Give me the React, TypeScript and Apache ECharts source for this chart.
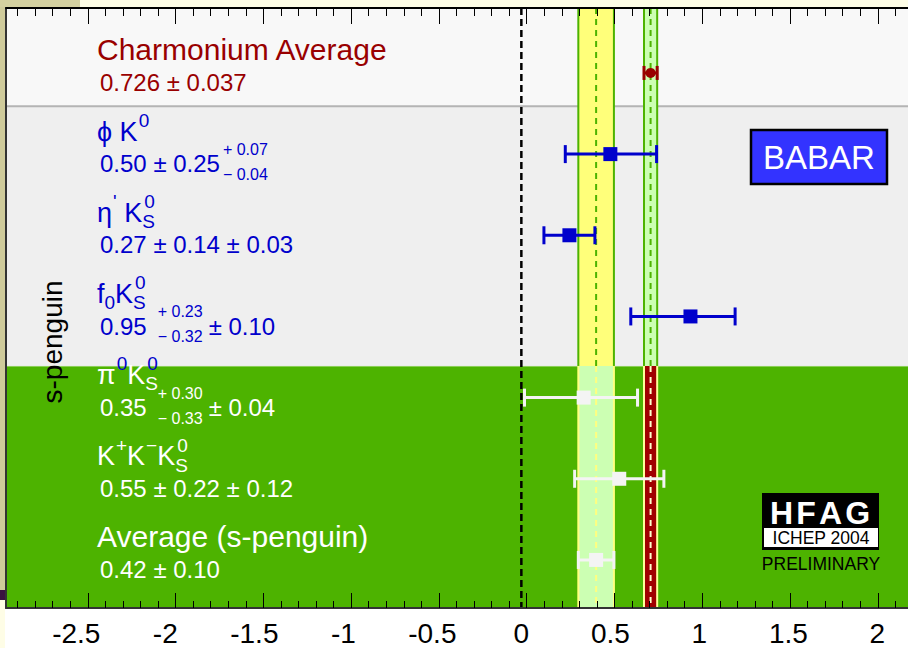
import React, { useEffect, useRef } from "react";
import * as echarts from "echarts";

const FONT_FAMILY = "'Liberation Sans', Arial, Helvetica, sans-serif";

// sin(2β) measurements, one row each, from top to bottom of the plot
const rowIndex = [0, 1, 2, 3, 4, 5, 6];
const centralValues = [0.726, 0.5, 0.27, 0.95, 0.35, 0.55, 0.42];
const statPlus = [0.037, 0.25, 0.14, 0.23, 0.3, 0.22, 0.1];
const statMinus = [0.037, 0.25, 0.14, 0.32, 0.33, 0.22, 0.1];
const systPlus = [0, 0.07, 0.03, 0.1, 0.04, 0.12, 0];
const systMinus = [0, 0.04, 0.03, 0.1, 0.04, 0.12, 0];
const labelDecimals = [3, 2, 2, 2, 2, 2, 2];

// rows whose results are also drawn as vertical bands
const charmoniumRow = 0;
const penguinAverageRow = 6;

type HeaderPiece = { t: string; k?: "sup" | "sub"; sup?: string };
const headerPieces: HeaderPiece[][] = [
  [{ t: "Charmonium Average" }],
  [{ t: "ϕ K" }, { t: "0", k: "sup" }],
  [{ t: "η" }, { t: "'", k: "sup" }, { t: " K" }, { t: "S", k: "sub", sup: "0" }],
  [{ t: "f" }, { t: "0", k: "sub" }, { t: "K" }, { t: "S", k: "sub", sup: "0" }],
  [{ t: "π" }, { t: "0", k: "sup" }, { t: "K" }, { t: "S", k: "sub", sup: "0" }],
  [{ t: "K" }, { t: "+", k: "sup" }, { t: "K" }, { t: "−", k: "sup" }, { t: "K" }, { t: "S", k: "sub", sup: "0" }],
  [{ t: "Average (s-penguin)" }],
];

const xMajorTicks = [-2.5, -2, -1.5, -1, -0.5, 0, 0.5, 1, 1.5, 2];
const xTickLabels = ["-2.5", "-2", "-1.5", "-1", "-0.5", "0", "0.5", "1", "1.5", "2"];

const X_MIN = -2.895;
const X_MAX = 2.172;
const Y_MIN = -0.8;
const Y_MAX = 6.592;
// the tick frame axis starts on a whole multiple of its 0.5 interval
const TICK_MIN = -3;
const PLOT_LEFT = 6;
const PLOT_WIDTH = 902;
const TICK_LEFT = PLOT_LEFT - ((X_MIN - TICK_MIN) * PLOT_WIDTH) / (X_MAX - X_MIN);

// plot sections in row units: charmonium / BaBar s-penguin modes / remaining modes
const sectionEdges = [Y_MIN, 0.41, 3.61, Y_MAX];
const sectionFills = ["#f8f8f8", "#efefef", "#4db300"];
const sectionText = ["#990000", "#0000cc", "#ffffff"];

const bandStyles = [
  [
    { fill: "#ffff7a", edge: "#4db300", center: "#4db300" },
    { fill: "#ccffb3", edge: "#ffff80", center: "#ffff80" },
  ],
  [
    { fill: "#ccffb3", edge: "#4db300", center: "#4db300" },
    { fill: "#a00000", edge: "#ffff99", center: "#ffffcc" },
  ],
];

const measureCtx = document.createElement("canvas").getContext("2d") as CanvasRenderingContext2D;
function textWidth(s: string, size: number, weight = "normal") {
  measureCtx.font = `${weight} ${size}px ${FONT_FAMILY}`;
  return measureCtx.measureText(s).width;
}

function fontOf(size: number, weight = "normal") {
  return `${weight} ${size}px ${FONT_FAMILY}`;
}

function textEl(x: number, baseline: number, text: string, size: number, fill: string, weight = "normal") {
  return {
    type: "text",
    x,
    y: baseline - 0.35 * size,
    style: {
      text,
      fill,
      font: fontOf(size, weight),
      align: "left",
      textAlign: "left",
      verticalAlign: "middle",
      textVerticalAlign: "middle",
    },
  };
}

// superscript stacked above a subscript, kept as one two-line text;
// sup baseline sits 14px above the main baseline, sub baseline 6px below it
function scriptStackEl(x: number, base: number, sup: string, sub: string, size: number, supFill: string, subFill: string) {
  const gap = 20;
  return {
    type: "text",
    x,
    y: base - 4 - 0.35 * size,
    style: {
      text: `{u|${sup}}\n{d|${sub}}`,
      font: fontOf(size),
      align: "left",
      textAlign: "left",
      verticalAlign: "middle",
      textVerticalAlign: "middle",
      lineHeight: gap,
      rich: {
        u: { fill: supFill, textFill: supFill, font: fontOf(size), lineHeight: gap, padding: [0, 0, 0, 2] },
        d: { fill: subFill, textFill: subFill, font: fontOf(size), lineHeight: gap },
      },
    },
  };
}

function sectionOf(row: number) {
  for (let s = 0; s < sectionFills.length; s++) {
    if (row >= sectionEdges[s] && row < sectionEdges[s + 1]) return s;
  }
  return sectionFills.length - 1;
}

const quad = (a: number, b: number) => Math.sqrt(a * a + b * b);

function headerElements(row: number, x0: number, base: number, color: string, supColor: string) {
  const pcs = headerPieces[row];
  const main = pcs.length === 1 ? 30 : 27;
  const scr = 19;
  const els: any[] = [];
  let x = x0;
  for (const p of pcs) {
    if (p.k === "sup") {
      els.push(textEl(x + 1, base - 14, p.t, scr, supColor));
      x += textWidth(p.t, scr) + 1;
    } else if (p.k === "sub") {
      if (p.sup) {
        els.push(scriptStackEl(x, base, p.sup, p.t, scr, supColor, color));
        x += Math.max(textWidth(p.t, scr), textWidth(p.sup, scr) + 2);
      } else {
        els.push(textEl(x, base + 6, p.t, scr, color));
        x += textWidth(p.t, scr);
      }
    } else {
      els.push(textEl(x, base, p.t, main, color));
      x += textWidth(p.t, main);
    }
  }
  return els;
}

type ValuePiece = { t: string } | { plus: string; minus: string };
function valuePieces(i: number): ValuePiece[] {
  const d = labelDecimals[i];
  const out: ValuePiece[] = [{ t: centralValues[i].toFixed(d) }];
  const add = (p: number, m: number) => {
    if (p === 0 && m === 0) return;
    if (p === m) out.push({ t: " ± " + p.toFixed(d) });
    else out.push({ plus: "+ " + p.toFixed(d), minus: "− " + m.toFixed(d) });
  };
  add(statPlus[i], statMinus[i]);
  add(systPlus[i], systMinus[i]);
  return out;
}

function valueElements(i: number, x0: number, base: number, color: string) {
  const size = 24;
  const scr = 16;
  const els: any[] = [];
  let x = x0;
  let prev = "none";
  for (const p of valuePieces(i)) {
    if ("t" in p) {
      let t = p.t;
      if (prev === "stack") {
        x += 6;
        t = t.trimStart();
      }
      els.push(textEl(x, base, t, size, color));
      x += textWidth(t, size);
      prev = prev === "none" ? "central" : "text";
    } else {
      x += prev === "central" ? 11 : 3;
      els.push(textEl(x, base - 17, p.plus, scr, color));
      els.push(textEl(x, base + 8, p.minus, scr, color));
      x += Math.max(textWidth(p.plus, scr), textWidth(p.minus, scr));
      prev = "stack";
    }
  }
  return els;
}

export default function App() {
  const ref = useRef<HTMLDivElement>(null);

  useEffect(() => {
    if (!ref.current) return;
    const chart = echarts.init(ref.current, undefined, { renderer: "svg" });

    const errorData = rowIndex.map((i) => [
      i,
      centralValues[i],
      centralValues[i] - quad(statMinus[i], systMinus[i]),
      centralValues[i] + quad(statPlus[i], systPlus[i]),
    ]);

    const bandItems = [
      [centralValues[penguinAverageRow], statPlus[penguinAverageRow], sectionEdges[0], sectionEdges[2], 0, 0],
      [centralValues[penguinAverageRow], statPlus[penguinAverageRow], sectionEdges[2], sectionEdges[3], 0, 1],
      [centralValues[charmoniumRow], statPlus[charmoniumRow], sectionEdges[0], sectionEdges[2], 1, 0],
      [centralValues[charmoniumRow], statPlus[charmoniumRow], sectionEdges[2], sectionEdges[3], 1, 1],
    ];

    const tickFormatter = (v: number) => {
      const k = xMajorTicks.findIndex((t) => Math.abs(t - v) < 1e-9);
      return k >= 0 ? xTickLabels[k] : "";
    };

    const hfagEls: any[] = [];
    {
      let x = 770;
      for (const L of ["H", "F", "A", "G"]) {
        hfagEls.push({
          type: "text",
          z: 101,
          x,
          y: 513,
          style: { text: L, fill: "#ffffff", font: fontOf(32, "bold"), align: "left", verticalAlign: "middle" },
        });
        x += textWidth(L, 32, "bold") + 3.2;
      }
    }

    const tickAxis = (position: "top" | "bottom", major: number, minor: number) => ({
      type: "value",
      gridIndex: 1,
      position,
      min: TICK_MIN,
      max: X_MAX,
      interval: 0.5,
      z: 20,
      splitLine: { show: false },
      axisLine: { show: false, onZero: false },
      axisLabel: { show: false },
      axisTick: { show: true, inside: true, length: major, lineStyle: { color: "#000000", width: 1 } },
      minorTick: { show: true, splitNumber: 5, length: minor, lineStyle: { color: "#000000", width: 1 } },
    });

    const option: any = {
      animation: false,
      backgroundColor: "#ffffff",
      grid: [
        { left: PLOT_LEFT, top: 8, width: PLOT_WIDTH, bottom: 40, containLabel: false },
        { left: TICK_LEFT, top: 8, right: 0, bottom: 40, containLabel: false },
      ],
      xAxis: [
        {
          type: "value",
          min: X_MIN,
          max: X_MAX,
          z: 10,
          position: "bottom",
          splitLine: { show: false },
          axisLine: { show: true, onZero: false, lineStyle: { color: "#333333", width: 2 } },
          axisTick: { show: false },
          axisLabel: {
            show: true,
            customValues: xMajorTicks,
            formatter: tickFormatter,
            fontSize: 28,
            fontFamily: FONT_FAMILY,
            color: "#000000",
            margin: 11,
          },
        },
        {
          type: "value",
          min: X_MIN,
          max: X_MAX,
          z: 10,
          position: "top",
          splitLine: { show: false },
          axisLine: { show: true, onZero: false, lineStyle: { color: "#000000", width: 2 } },
          axisTick: { show: false },
          axisLabel: { show: false },
        },
        tickAxis("bottom", 15, 7),
        tickAxis("top", 16, 8),
      ],
      yAxis: [
        {
          type: "value",
          min: Y_MIN,
          max: Y_MAX,
          inverse: true,
          z: 10,
          axisLine: { show: true, onZero: false, lineStyle: { color: "#333333", width: 2 } },
          axisTick: { show: false },
          axisLabel: { show: false },
          splitLine: { show: false },
        },
        {
          type: "value",
          gridIndex: 1,
          min: 0,
          max: 1,
          show: false,
          splitLine: { show: false },
        },
      ],
      series: [
        {
          type: "custom",
          name: "sections",
          z: 1,
          silent: true,
          data: sectionFills.map((_, s) => [sectionEdges[s], sectionEdges[s + 1], s]),
          renderItem: (params: any, api: any) => {
            const cs = params.coordSys;
            const y0 = api.coord([0, api.value(0)])[1];
            const y1 = api.coord([0, api.value(1)])[1];
            const s = api.value(2);
            const children: any[] = [
              { type: "rect", shape: { x: cs.x, y: y0, width: cs.width, height: y1 - y0 }, style: { fill: sectionFills[s] } },
            ];
            if (s === 1) {
              children.push({
                type: "line",
                shape: { x1: cs.x, y1: y0, x2: cs.x + cs.width, y2: y0 },
                style: { stroke: "#b4b4b4", lineWidth: 2 },
              });
            }
            if (s === 2) {
              children.push({
                type: "line",
                shape: { x1: cs.x, y1: y0 + 0.5, x2: cs.x + cs.width, y2: y0 + 0.5 },
                style: { stroke: "#8fd05a", lineWidth: 1 },
              });
            }
            return { type: "group", children };
          },
        },
        {
          type: "custom",
          name: "bands",
          z: 2,
          silent: true,
          data: bandItems,
          renderItem: (params: any, api: any) => {
            const c = api.value(0);
            const h = api.value(1);
            const [xl, ya] = api.coord([c - h, api.value(2)]);
            const [xr, yb] = api.coord([c + h, api.value(3)]);
            const xc = api.coord([c, 0])[0];
            const st = bandStyles[api.value(4)][api.value(5)];
            return {
              type: "group",
              children: [
                { type: "rect", shape: { x: xl, y: ya, width: xr - xl, height: yb - ya }, style: { fill: st.fill } },
                { type: "line", shape: { x1: xl, y1: ya, x2: xl, y2: yb }, style: { stroke: st.edge, lineWidth: 2 } },
                { type: "line", shape: { x1: xr, y1: ya, x2: xr, y2: yb }, style: { stroke: st.edge, lineWidth: 2 } },
                {
                  type: "line",
                  shape: { x1: xc, y1: ya, x2: xc, y2: yb },
                  style: { stroke: st.center, lineWidth: 2, lineDash: [6, 5] },
                },
              ],
            };
          },
        },
        {
          type: "custom",
          name: "zero",
          z: 3,
          silent: true,
          data: [[0]],
          renderItem: (params: any, api: any) => {
            const cs = params.coordSys;
            const x0 = api.coord([api.value(0), 0])[0];
            return {
              type: "line",
              shape: { x1: x0, y1: cs.y, x2: x0, y2: cs.y + cs.height },
              style: { stroke: "#000000", lineWidth: 2.5, lineDash: [7, 4] },
            };
          },
        },
        {
          type: "custom",
          name: "measurements",
          z: 4,
          silent: true,
          data: errorData,
          renderItem: (params: any, api: any) => {
            const row = api.value(0);
            const [cx, cy] = api.coord([api.value(1), row]);
            const xl = api.coord([api.value(2), row])[0];
            const xr = api.coord([api.value(3), row])[0];
            const s = sectionOf(row);
            const color = s === 2 ? "#f4f4f4" : sectionText[s];
            const capH = row === charmoniumRow ? 14 : 18;
            const children: any[] = [
              { type: "line", shape: { x1: xl, y1: cy, x2: xr, y2: cy }, style: { stroke: color, lineWidth: 3 } },
              { type: "line", shape: { x1: xl, y1: cy - capH / 2, x2: xl, y2: cy + capH / 2 }, style: { stroke: color, lineWidth: 3 } },
              { type: "line", shape: { x1: xr, y1: cy - capH / 2, x2: xr, y2: cy + capH / 2 }, style: { stroke: color, lineWidth: 3 } },
            ];
            if (row === charmoniumRow) {
              children.push({ type: "circle", shape: { cx, cy, r: 5 }, style: { fill: color } });
            } else {
              children.push({ type: "rect", shape: { x: cx - 7, y: cy - 7, width: 14, height: 14 }, style: { fill: color } });
            }
            return { type: "group", children };
          },
        },
        {
          type: "custom",
          name: "labels",
          z: 5,
          silent: true,
          data: rowIndex.map((i) => [i]),
          renderItem: (params: any, api: any) => {
            const row = api.value(0);
            const cs = params.coordSys;
            const y = api.coord([0, row])[1];
            const s = sectionOf(row);
            const color = sectionText[s];
            const supColor = s === 2 && headerPieces[row][1]?.k === "sup" && headerPieces[row][1].t === "0" ? "#0000cc" : color;
            const children = [
              ...headerElements(row, cs.x + 91, y - 13, color, supColor),
              ...valueElements(row, cs.x + 94, y + 18, color),
            ];
            return { type: "group", children };
          },
        },
      ],
      graphic: [
        { type: "rect", z: 100, shape: { x: 80, y: 0, width: 828, height: 7 }, style: { fill: "#fefde6" } },
        { type: "rect", z: 100, shape: { x: 0, y: 0, width: 80, height: 7 }, style: { fill: "#d4d0a0" } },
        { type: "rect", z: 100, shape: { x: 0, y: 7, width: 5, height: 583 }, style: { fill: "#cfcb9b" } },
        { type: "rect", z: 100, shape: { x: 0, y: 590, width: 5, height: 10 }, style: { fill: "#3a1440" } },
        { type: "rect", z: 100, shape: { x: 0, y: 600, width: 5, height: 48 }, style: { fill: "#fefde6" } },
        {
          type: "text",
          z: 100,
          x: 52,
          y: 342,
          rotation: Math.PI / 2,
          style: { text: "s-penguin", fill: "#000000", font: fontOf(28), align: "center", verticalAlign: "middle" },
        },
        {
          type: "rect",
          z: 100,
          shape: { x: 751, y: 130, width: 136, height: 54 },
          style: { fill: "#3333ff", stroke: "#000000", lineWidth: 2.5 },
        },
        {
          type: "text",
          z: 101,
          x: 819,
          y: 157,
          style: { text: "BABAR", fill: "#ffffff", font: fontOf(33), align: "center", verticalAlign: "middle" },
        },
        { type: "rect", z: 100, shape: { x: 762, y: 493, width: 117, height: 57 }, style: { fill: "#000000" } },
        { type: "rect", z: 101, shape: { x: 764, y: 528, width: 114, height: 19 }, style: { fill: "#ffffff" } },
        ...hfagEls,
        {
          type: "text",
          z: 102,
          x: 821,
          y: 538,
          style: { text: "ICHEP 2004", fill: "#000000", font: fontOf(17.5), align: "center", verticalAlign: "middle" },
        },
        {
          type: "text",
          z: 101,
          x: 821,
          y: 563.5,
          style: { text: "PRELIMINARY", fill: "#000000", font: fontOf(17.5), align: "center", verticalAlign: "middle" },
        },
      ],
    };

    chart.setOption(option);
    return () => chart.dispose();
  }, []);

  return <div ref={ref} style={{ position: "fixed", left: 0, top: 0, width: 908, height: 648 }} />;
}
